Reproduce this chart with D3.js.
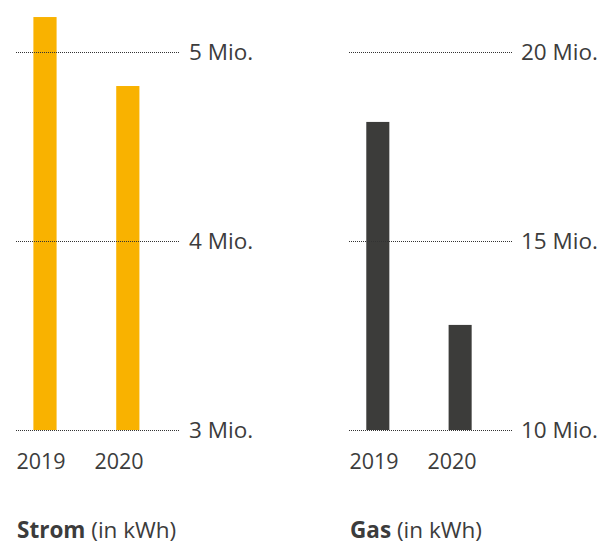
<!DOCTYPE html>
<html>
<head>
<meta charset="utf-8">
<script src="https://cdn.jsdelivr.net/npm/d3@7"></script>
<style>
  body { margin: 0; background: #fff; }
  text { font-family: "Open Sans", sans-serif; fill: #3c3c3c; }
  .grid { stroke: #333; stroke-width: 1; stroke-dasharray: 1 1; }
</style>
</head>
<body>
<div id="chart"></div>
<script>
// data
const years = ['2019', '2020']
const stromValues = [5.185, 4.82]      // Mio. kWh
const gasValues = [18.15, 12.78]        // Mio. kWh
const stromTicks = [3, 4, 5]
const gasTicks = [10, 15, 20]

const width = 605
const height = 544

const svg = d3.select('#chart')
    .append('svg')
    .attr('width', width)
    .attr('height', height)

const drawPanel = (x0, x1, values, ticks, color, title) => {

    const g = svg.append('g')

    const xScale = d3.scaleBand()
        .domain(years)
        .range([x0, x1])
        .paddingInner(0.72)
        .paddingOuter(0.35)
        .align(0.3)

    const labelScale = d3.scalePoint()
        .domain(years)
        .range([x0 + 25, x0 + 103])

    const yScale = d3.scaleLinear()
        .domain(d3.extent(ticks))
        .range([430, 52])

    g.selectAll('rect')
        .data(values)
        .join('rect')
        .attr('x', (d, i) => xScale(years[i]))
        .attr('width', xScale.bandwidth())
        .attr('y', (d) => yScale(d))
        .attr('height', (d) => yScale(ticks[0]) - yScale(d))
        .attr('fill', color)

    g.selectAll('line.grid')
        .data(ticks)
        .join('line')
        .attr('class', 'grid')
        .attr('x1', x0)
        .attr('x2', x1)
        .attr('y1', (d) => Math.round(yScale(d)) + 0.5)
        .attr('y2', (d) => Math.round(yScale(d)) + 0.5)

    g.selectAll('text.tick')
        .data(ticks)
        .join('text')
        .attr('class', 'tick')
        .attr('x', x1 + 9)
        .attr('y', (d) => yScale(d))
        .attr('dy', '0.36em')
        .style('font-size', '22.5px')
        .text((d) => d + ' Mio.')

    g.selectAll('text.year')
        .data(years)
        .join('text')
        .attr('class', 'year')
        .attr('x', (d) => labelScale(d))
        .attr('y', 469)
        .attr('text-anchor', 'middle')
        .style('font-size', '21.5px')
        .text((d) => d)

    const t = g.append('text')
        .attr('x', x0 + 1)
        .attr('y', 538)
        .style('font-size', '22.5px')
    t.append('tspan').style('font-weight', 700).text(title)
    t.append('tspan').text(' (in kWh)')
}

drawPanel(16, 180, stromValues, stromTicks, '#f9b200', 'Strom')
drawPanel(349, 512, gasValues, gasTicks, '#3c3c3a', 'Gas')
</script>
</body>
</html>
